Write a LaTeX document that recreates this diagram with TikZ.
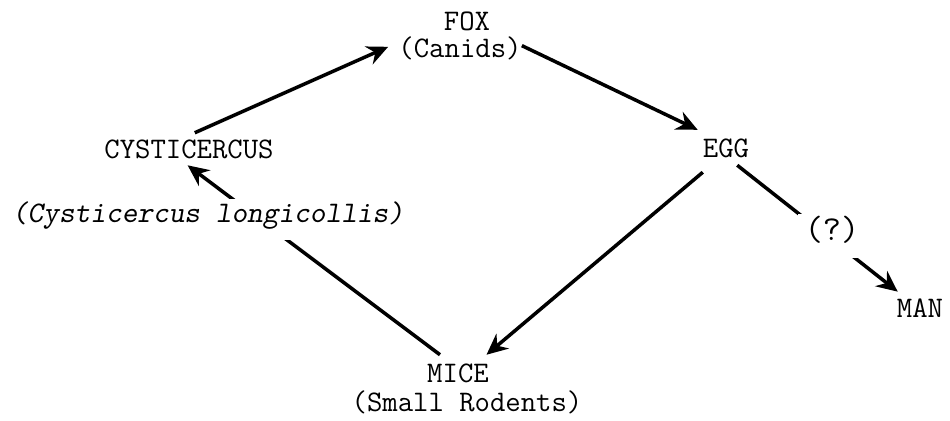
\documentclass[tikz,border=0pt]{standalone}
\usepackage{fontspec}
\usepackage{tikz}
\usetikzlibrary{arrows.meta}
\tikzset{
  word/.style={font=\ttfamily\fontsize{17}{20}\selectfont, inner sep=0pt, text height=11pt, text depth=3pt, anchor=base},
  latin/.style={word, font=\ttfamily\slshape\fontsize{17}{20}\selectfont, fill=white, text height=13pt, text depth=10.2pt},
  query/.style={word, font=\ttfamily\fontsize{20}{24}\selectfont, fill=white, text height=14.7pt, text depth=10.2pt, inner xsep=4pt},
  cyc/.style={line width=2pt, -{Stealth[length=12pt,width=11pt,inset=4pt]}}
}
\begin{document}
\begin{tikzpicture}[x=0.02cm,y=-0.02cm]
            \useasboundingbox (0,0) rectangle (950,420);
            \node[word] (fox) at (467,30) {FOX};
            \node[word] (canids) at (460,57) {(Canids)};
            \node[word] (cyst) at (189,158) {CYSTICERCUS};
            \node[word] (egg) at (726,157) {EGG};
            \node[word] (man) at (920,317) {MAN};
            \node[word] (mice) at (458,382) {MICE};
            \node[word] (rodents) at (467,411) {(Small Rodents)};
            \draw[cyc, shorten <=7.8pt, shorten >=6.2pt] (cyst.118) -- (canids.173);
            \draw[cyc, shorten >=9.9pt] (canids.4.5) -- (egg.135);
            \draw[cyc, shorten <=8.5pt, shorten >=6.7pt] (egg.227) -- (mice.33);
            \draw[cyc, shorten <=7.2pt, shorten >=1.6pt] (mice.122.6) -- (cyst.254.7);
            \draw[cyc, shorten <=2.4pt, shorten >=5.2pt] (egg.-58.4) -- (man.140.4);
            \node[latin] (longi) at (208,222) {(Cysticercus longicollis)};
            \node[query] (unsure) at (832,240) {(?)};
        \end{tikzpicture}
\end{document}
